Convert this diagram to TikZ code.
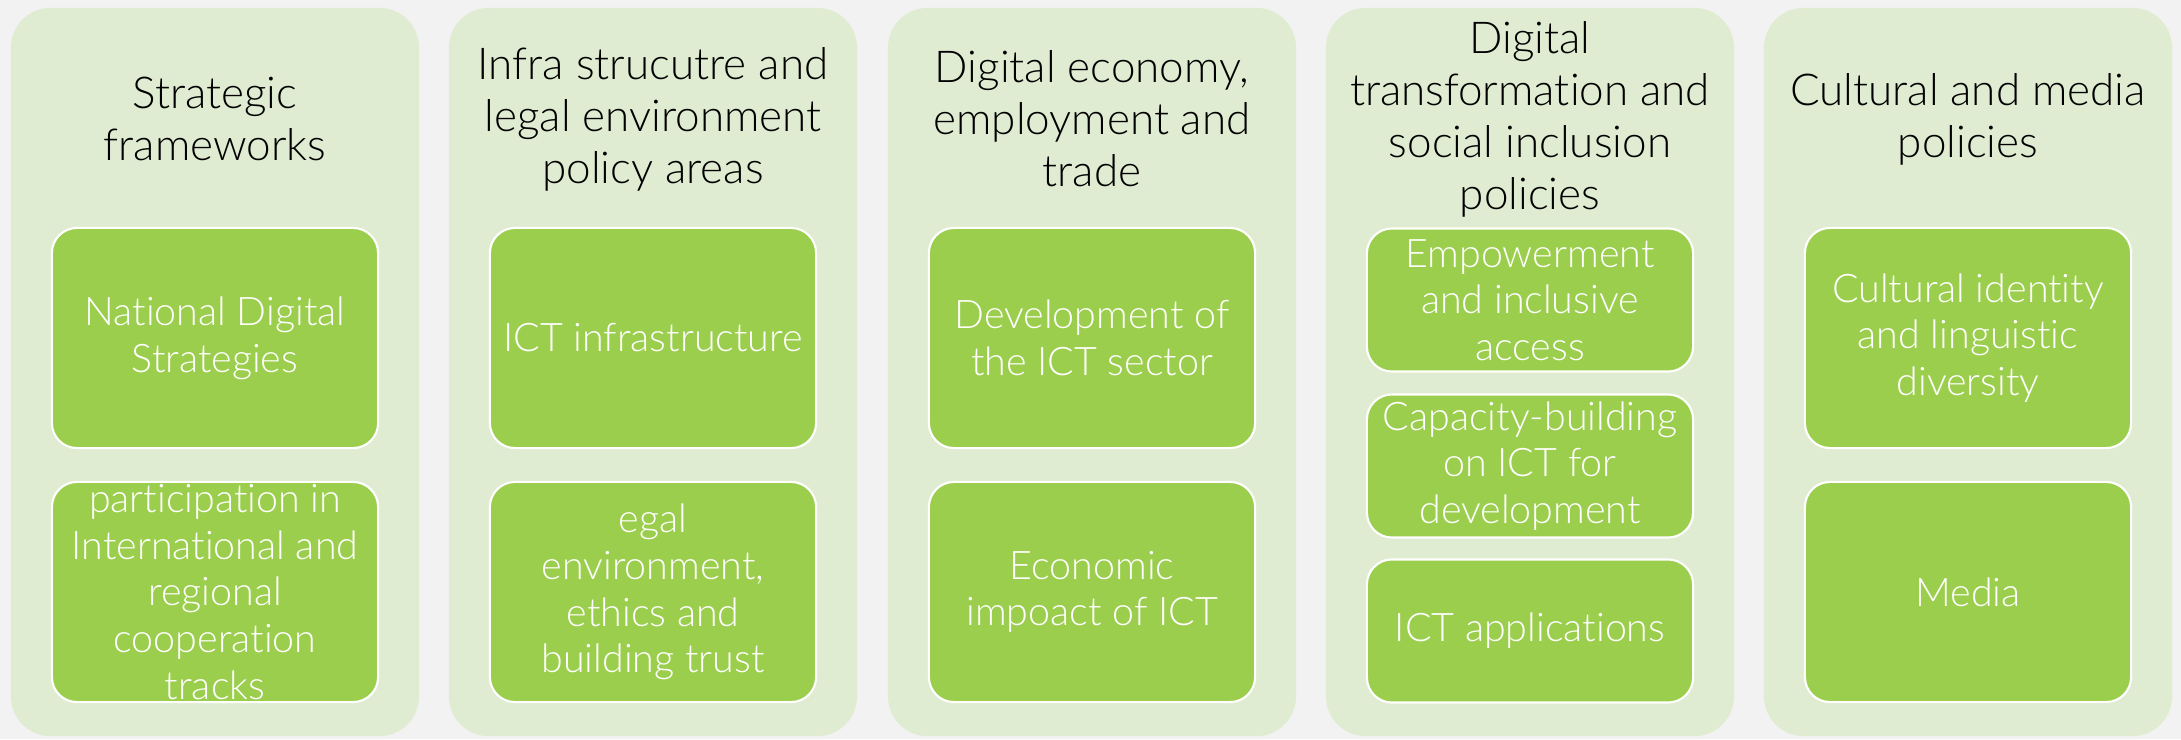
\documentclass[tikz,border=0pt]{standalone}
\usepackage{fontspec}
\setmainfont[Ligatures=NoCommon]{Lato Light}
\definecolor{canvasgray}{HTML}{F2F2F2}
\definecolor{panelgreen}{HTML}{E0ECD1}
\definecolor{boxgreen}{HTML}{9CCE4E}
\tikzstyle{panel}=[rounded corners=0.4cm, fill=panelgreen, minimum width=4.08cm, minimum height=7.28cm, inner sep=0pt]
\tikzstyle{paneltitle}=[align=center, text=black, inner sep=0pt, font=\fontsize{12.5pt}{14.8pt}\selectfont]
\tikzstyle{tallbox}=[rounded corners=0.25cm, fill=boxgreen, draw=white, line width=0.6pt, minimum width=3.26cm, minimum height=2.2cm, inner sep=0pt]
\tikzstyle{shortbox}=[tallbox, minimum height=1.43cm]
\tikzset{boxtext/.style={label={[align=center, text=white, inner sep=0pt, font=\fontsize{11.2pt}{13.3pt}\selectfont]center:#1}}}

\begin{document}
\begin{tikzpicture}[x=0.01cm, y=-0.01cm]
			\fill[canvasgray] (0,0) rectangle (2181,739);
			% columns
			\node[panel] (strat) at (215,372) {};
			\node[panel] (infra) at (653,372) {};
			\node[panel] (econ) at (1092,372) {};
			\node[panel] (transf) at (1530,372) {};
			\node[panel] (cult) at (1968,372) {};
			% headings
			\node[paneltitle] (strathead) at (215,119) {Strategic\\frameworks};
			\node[paneltitle] (infrahead) at (653,119) {Infra strucutre and\\legal environment\\policy areas};
			\node[paneltitle] (econhead) at (1092,119) {Digital economy,\\employment and\\trade};
			\node[paneltitle] (transfhead) at (1530,119) {Digital\\transformation and\\social inclusion\\policies};
			\node[paneltitle] (culthead) at (1968,119) {Cultural and media\\policies};
			% boxes
			\node[tallbox, boxtext={National Digital\\Strategies}] (stratA) at (215,338) {};
			\node[tallbox, boxtext={participation in\\International and\\regional\\cooperation\\tracks}] (stratB) at (215,592) {};
			\node[tallbox, boxtext={ICT infrastructure}] (infraA) at (653,338) {};
			\node[tallbox, boxtext={egal\\environment,\\ethics and\\building trust}] (infraB) at (653,592) {};
			\node[tallbox, boxtext={Development of\\the ICT sector}] (econA) at (1092,338) {};
			\node[tallbox, boxtext={Economic\\impoact of ICT}] (econB) at (1092,592) {};
			\node[shortbox, boxtext={Empowerment\\and inclusive\\access}] (transfA) at (1530,300) {};
			\node[shortbox, boxtext={Capacity-building\\on ICT for\\development}] (transfB) at (1530,466) {};
			\node[shortbox, boxtext={ICT applications}] (transfC) at (1530,631) {};
			\node[tallbox, boxtext={Cultural identity\\and linguistic\\diversity}] (cultA) at (1968,338) {};
			\node[tallbox, boxtext={Media}] (cultB) at (1968,592) {};
		\end{tikzpicture}
\end{document}
